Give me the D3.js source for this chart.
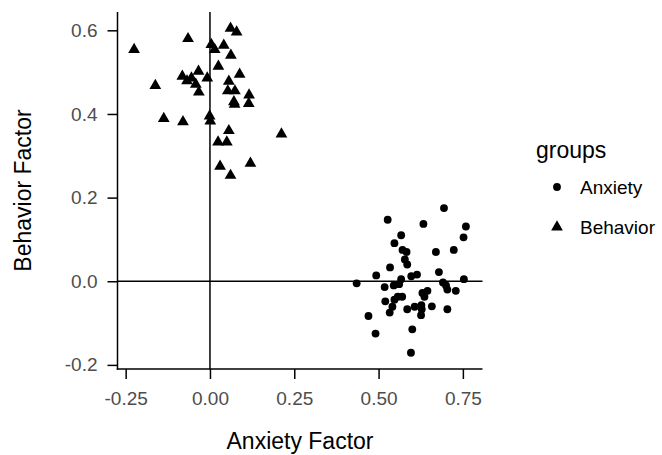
<!DOCTYPE html>
<html lang="en">
<head>
<meta charset="UTF-8">
<title>Anxiety vs Behavior factor scores</title>
<script src="https://d3js.org/d3.v7.min.js"></script>
<style>
  body { margin: 0; padding: 0; background: #fff; }
  svg { display: block; font-family: "Liberation Sans", Arial, Helvetica, sans-serif; }
</style>
</head>
<body>
<svg id="chart" width="662" height="455"></svg>
<script>
// Group "Anxiety" (circles): anxiety factor score / behavior factor score
const anxGroupX = [0.694, 0.527, 0.633, 0.759, 0.567, 0.752, 0.547, 0.571, 0.583, 0.723,
  0.670, 0.578, 0.585, 0.534, 0.679, 0.493, 0.597, 0.614, 0.567, 0.753,
  0.435, 0.518, 0.545, 0.561, 0.691, 0.700, 0.704, 0.729, 0.645, 0.630,
  0.636, 0.557, 0.570, 0.547, 0.520, 0.541, 0.607, 0.585, 0.627, 0.628,
  0.658, 0.704, 0.533, 0.626, 0.470, 0.491, 0.600, 0.596];
const anxGroupY = [0.175, 0.147, 0.137, 0.131, 0.110, 0.105, 0.091, 0.075, 0.070, 0.075,
  0.070, 0.052, 0.040, 0.033, 0.022, 0.014, 0.012, 0.016, 0.005, 0.005,
  -0.005, -0.014, -0.010, -0.007, -0.003, -0.010, -0.020, -0.023, -0.023, -0.028,
  -0.037, -0.037, -0.037, -0.044, -0.048, -0.061, -0.061, -0.067, -0.057, -0.067,
  -0.060, -0.067, -0.075, -0.081, -0.083, -0.125, -0.115, -0.171];

// Group "Behavior" (triangles)
const behGroupX = [0.061, 0.079, -0.065, -0.225, 0.004, 0.014, 0.041, 0.062, 0.025, -0.034,
  -0.082, -0.055, -0.068, -0.008, 0.088, -0.162, -0.042, -0.033, 0.056, 0.053,
  0.074, 0.116, 0.071, 0.073, 0.115, -0.137, -0.080, -0.001, 0.001, 0.056,
  0.212, 0.024, 0.050, 0.030, 0.120, 0.061];
const behGroupY = [0.605, 0.596, 0.580, 0.554, 0.566, 0.554, 0.564, 0.540, 0.514, 0.502,
  0.490, 0.486, 0.479, 0.486, 0.495, 0.468, 0.471, 0.452, 0.478, 0.455,
  0.455, 0.445, 0.429, 0.423, 0.425, 0.389, 0.381, 0.395, 0.383, 0.360,
  0.352, 0.333, 0.333, 0.275, 0.282, 0.253];

const groups = ["Anxiety", "Behavior"];
const xTicks = [-0.25, 0, 0.25, 0.5, 0.75];
const yTicks = [-0.2, 0, 0.2, 0.4, 0.6];

const points = [];
anxGroupX.forEach((v, i) => points.push({ x: v, y: anxGroupY[i], group: "Anxiety" }));
behGroupX.forEach((v, i) => points.push({ x: v, y: behGroupY[i], group: "Behavior" }));

// panel box, ggplot-like 5% expansion of the data range
const panel = { left: 117.5, right: 482.5, top: 12, bottom: 369 };

function expand(ext) {
  const pad = (ext[1] - ext[0]) * 0.05;
  return [ext[0] - pad, ext[1] + pad];
}

const x = d3.scaleLinear()
  .domain(expand(d3.extent(points, d => d.x)))
  .range([panel.left, panel.right]);
const y = d3.scaleLinear()
  .domain(expand(d3.extent(points, d => d.y)))
  .range([panel.bottom, panel.top]);

const svg = d3.select("#chart");

// reference lines at zero
svg.append("line")
  .attr("x1", x(0)).attr("x2", x(0))
  .attr("y1", panel.top).attr("y2", panel.bottom)
  .attr("stroke", "#000").attr("stroke-width", 1.5);
svg.append("line")
  .attr("x1", panel.left).attr("x2", panel.right)
  .attr("y1", y(0)).attr("y2", y(0))
  .attr("stroke", "#000").attr("stroke-width", 1.5);

const circleSym = d3.symbol().type(d3.symbolCircle).size(48);
const triSym = d3.symbol().type(d3.symbolTriangle).size(60);

svg.append("g")
  .selectAll("path")
  .data(points)
  .join("path")
  .attr("transform", d => `translate(${x(d.x)},${y(d.y)})`)
  .attr("d", d => d.group === "Anxiety" ? circleSym() : triSym())
  .attr("fill", "#000");

// axes
const xAxis = svg.append("g")
  .attr("transform", `translate(0,${panel.bottom})`)
  .call(d3.axisBottom(x).tickValues(xTicks).tickFormat(d => d.toFixed(2))
    .tickSizeOuter(0).tickSize(10).tickPadding(13));
const yAxis = svg.append("g")
  .attr("transform", `translate(${panel.left},0)`)
  .call(d3.axisLeft(y).tickValues(yTicks).tickFormat(d => d.toFixed(1))
    .tickSizeOuter(0).tickSize(10).tickPadding(10));

[xAxis, yAxis].forEach(g => {
  g.select(".domain").remove();
  g.selectAll(".tick line").attr("stroke", "#000").attr("stroke-width", 1.5);
  g.selectAll(".tick text").attr("font-size", 19).attr("fill", "#4d4d4d");
});

// axis lines drawn over the full panel
svg.append("line")
  .attr("x1", panel.left - 0.75).attr("x2", panel.right)
  .attr("y1", panel.bottom).attr("y2", panel.bottom)
  .attr("stroke", "#000").attr("stroke-width", 1.5);
svg.append("line")
  .attr("x1", panel.left).attr("x2", panel.left)
  .attr("y1", panel.top).attr("y2", panel.bottom + 0.75)
  .attr("stroke", "#000").attr("stroke-width", 1.5);

// axis titles
svg.append("text")
  .attr("x", (panel.left + panel.right) / 2)
  .attr("y", 449)
  .attr("text-anchor", "middle")
  .attr("font-size", 23)
  .text("Anxiety Factor");
svg.append("text")
  .attr("transform", `translate(31,${(panel.top + panel.bottom) / 2}) rotate(-90)`)
  .attr("text-anchor", "middle")
  .attr("font-size", 23)
  .text("Behavior Factor");

// legend
const legend = svg.append("g").attr("transform", "translate(536,0)");
legend.append("text")
  .attr("x", 0).attr("y", 158)
  .attr("font-size", 23)
  .text("groups");

const keys = legend.selectAll("g.key")
  .data(groups)
  .join("g")
  .attr("class", "key")
  .attr("transform", (d, i) => `translate(21,${187 + i * 40})`);
keys.append("path")
  .attr("d", d => d === "Anxiety" ? circleSym() : triSym())
  .attr("fill", "#000");
keys.append("text")
  .attr("x", 23)
  .attr("dy", "0.35em")
  .attr("font-size", 19)
  .text(d => d);
</script>
</body>
</html>
